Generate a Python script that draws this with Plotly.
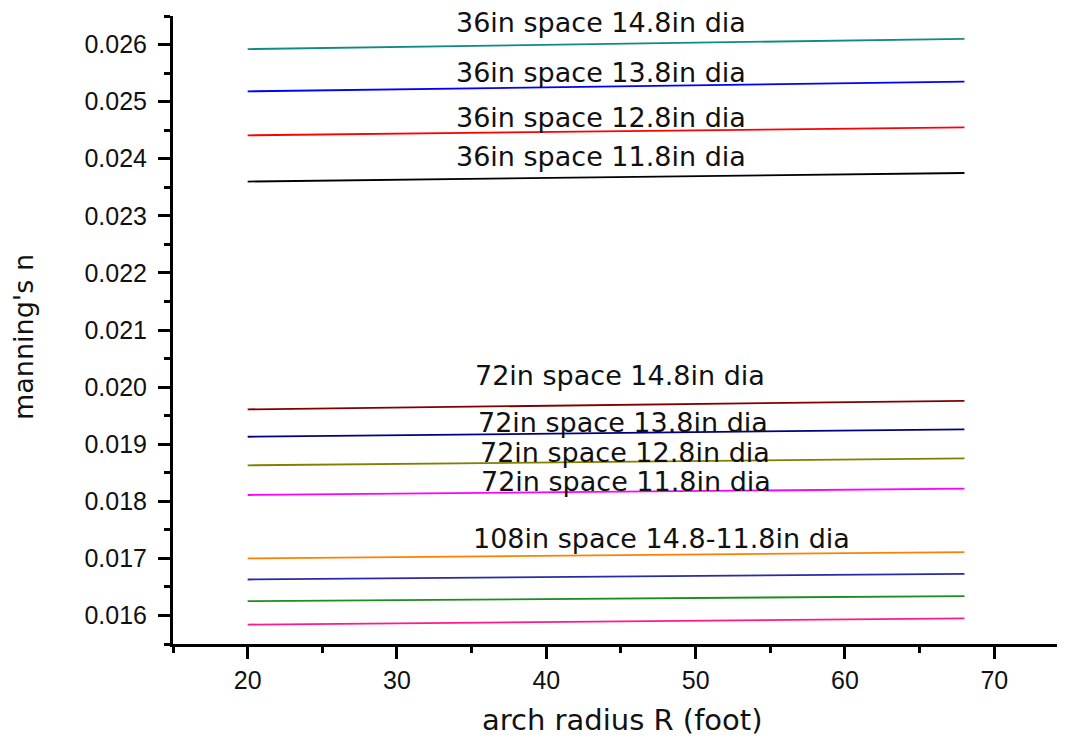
import plotly.graph_objects as go

# x range of each curve (arch radius R, foot)
radius = [20, 68]

# Manning's n values at the start and end of each curve
n_36_148 = [0.02592, 0.02610]
n_36_138 = [0.02518, 0.02535]
n_36_128 = [0.02441, 0.02455]
n_36_118 = [0.02360, 0.02375]
n_72_148 = [0.01961, 0.01976]
n_72_138 = [0.01913, 0.01926]
n_72_128 = [0.01863, 0.01875]
n_72_118 = [0.01811, 0.01822]
n_108_148 = [0.01700, 0.01711]
n_108_138 = [0.01663, 0.01673]
n_108_128 = [0.01625, 0.01634]
n_108_118 = [0.01584, 0.01595]

series = [
    (n_36_148, "#108a84"),
    (n_36_138, "#0000ff"),
    (n_36_128, "#ff0000"),
    (n_36_118, "#000000"),
    (n_72_148, "#800000"),
    (n_72_138, "#000080"),
    (n_72_128, "#808000"),
    (n_72_118, "#ff00ff"),
    (n_108_148, "#ff8000"),
    (n_108_138, "#2a2aa8"),
    (n_108_128, "#1e8c1e"),
    (n_108_118, "#ff1a8c"),
]

label_texts = [
    "36in space 14.8in dia",
    "36in space 13.8in dia",
    "36in space 12.8in dia",
    "36in space 11.8in dia",
    "72in space 14.8in dia",
    "72in space 13.8in dia",
    "72in space 12.8in dia",
    "72in space 11.8in dia",
    "108in space 14.8-11.8in dia",
]
label_x = [43.64, 43.64, 43.64, 43.64, 44.91, 45.15, 45.25, 45.35, 47.72]
label_y = [0.026390, 0.025509, 0.024719, 0.024035, 0.020211, 0.019377,
           0.018860, 0.018342, 0.017351]

fig = go.Figure()
for vals, col in series:
    fig.add_trace(go.Scatter(x=radius, y=vals, mode="lines",
                             line=dict(color=col, width=1.8),
                             showlegend=False, hoverinfo="skip"))

for t, x, y in zip(label_texts, label_x, label_y):
    fig.add_annotation(x=x, y=y, xref="x", yref="y", text=t, showarrow=False,
                       xanchor="center", yanchor="middle",
                       font=dict(family="DejaVu Sans", size=27, color="#111111"))

fig.add_annotation(x=-0.1674, y=0.4889, xref="paper", yref="paper",
                   text="manning's n", showarrow=False, textangle=-90,
                   xanchor="center", yanchor="middle",
                   font=dict(family="DejaVu Sans", size=27, color="#111111"))
fig.add_annotation(x=0.5056, y=-0.121, xref="paper", yref="paper",
                   text="arch radius R (foot)", showarrow=False,
                   xanchor="center", yanchor="middle",
                   font=dict(family="DejaVu Sans", size=29, color="#111111"))

axis_common = dict(
    showgrid=False, zeroline=False, showline=True, linecolor="black",
    linewidth=3, ticks="outside", ticklen=12, tickwidth=2.5, tickcolor="black",
    tickfont=dict(family="Liberation Sans", size=25, color="#111111"),
)
fig.update_xaxes(range=[15, 74.6], tick0=20, dtick=10,
                 minor=dict(dtick=5, tick0=15, ticks="outside", ticklen=6,
                            tickwidth=2.5, tickcolor="black"),
                 **axis_common)
fig.update_yaxes(range=[0.0155, 0.0265], tick0=0.016, dtick=0.001,
                 tickformat=".3f", ticklabelstandoff=6,
                 minor=dict(dtick=0.0005, tick0=0.0155, ticks="outside",
                            ticklen=6, tickwidth=2.5, tickcolor="black"),
                 **axis_common)

fig.update_layout(
    width=1065, height=742,
    margin=dict(l=165, r=10, t=8, b=106),
    paper_bgcolor="white", plot_bgcolor="white",
)

fig.write_html("out.html")
